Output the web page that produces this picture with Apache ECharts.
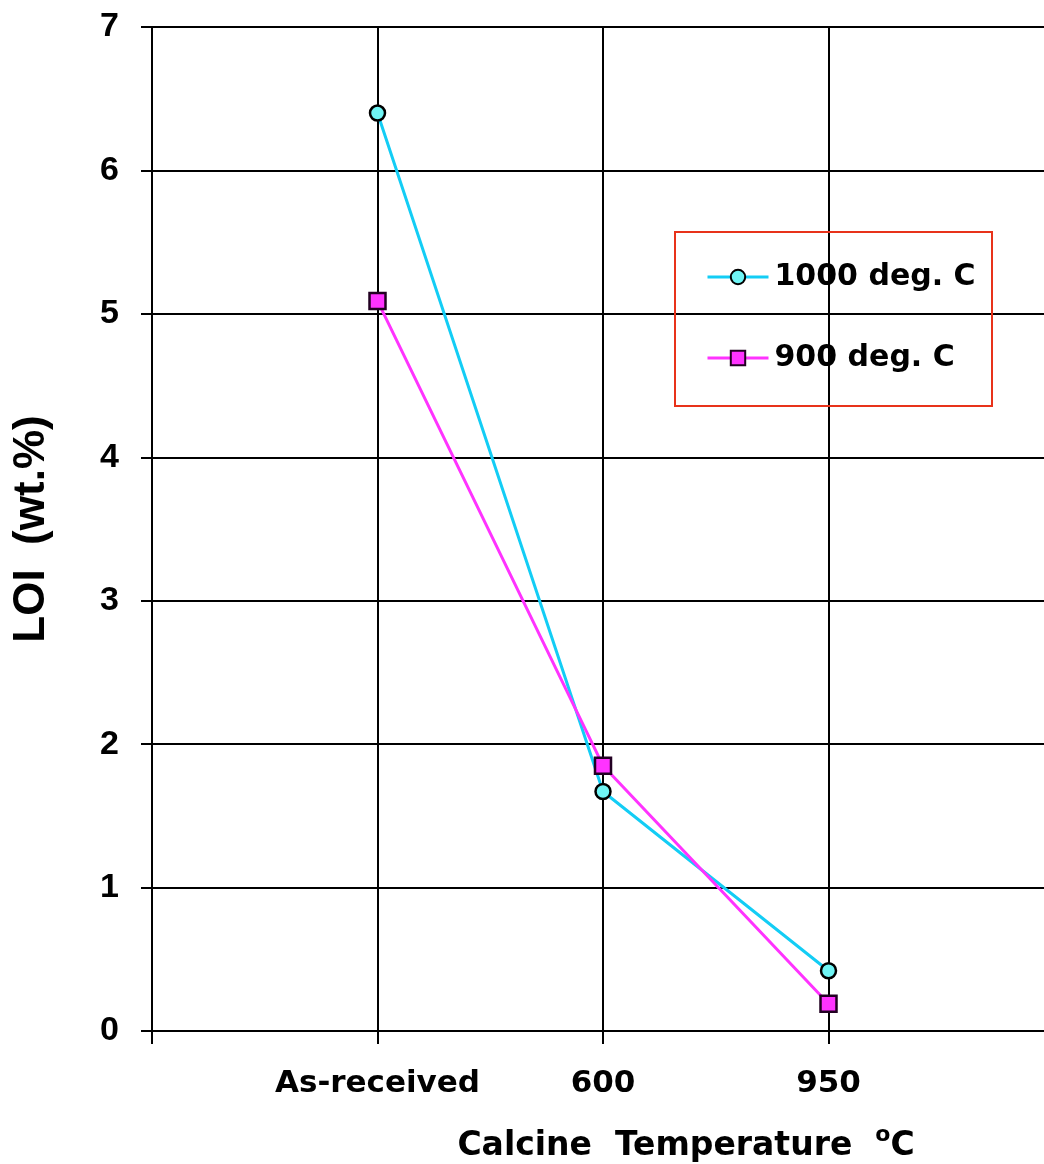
<!DOCTYPE html>
<html>
<head>
<meta charset="utf-8">
<script src="https://cdn.jsdelivr.net/npm/echarts@6/dist/echarts.min.js"></script>
<style>
html,body{margin:0;padding:0;background:#fff;}
#c{width:1044px;height:1164px;}
</style>
</head>
<body>
<div id="c"></div>
<script>
var categories = ['', 'As-received', '600', '950', ''];
var seriesNames = ['1000 deg. C', '900 deg. C'];
var loi1000 = [null, 6.40, 1.67, 0.42, null];
var loi900 = [null, 5.09, 1.85, 0.19, null];
var yTicks = [0, 1, 2, 3, 4, 5, 6, 7];

var narrow = "'Liberation Sans Narrow', 'Liberation Sans', Arial, sans-serif";
var wide = "'DejaVu Sans', sans-serif";

var chart = echarts.init(document.getElementById('c'), null, {renderer: 'canvas'});
chart.setOption({
  backgroundColor: '#ffffff',
  animation: false,
  grid: {left: 152, right: -10, top: 27, bottom: 133, containLabel: false, outerBoundsMode: 'none'},
  xAxis: {
    type: 'category',
    data: categories,
    boundaryGap: false,
    axisLine: {lineStyle: {color: '#000', width: 2}},
    axisTick: {show: true, inside: false, interval: 0, length: 13, lineStyle: {color: '#000', width: 2}},
    splitLine: {show: true, interval: 0, lineStyle: {color: '#000', width: 2}},
    axisLabel: {color: '#000', interval: 0, hideOverlap: false, fontFamily: wide, fontWeight: 'bold', fontSize: 31, margin: 37},
    name: 'Calcine  Temperature  {sup|o}C',
    nameLocation: 'middle',
    nameGap: 93,
    nameTextStyle: {
      color: '#000', fontFamily: wide, fontWeight: 'bold', fontSize: 33,
      padding: [0, 0, 0, 166],
      rich: {sup: {fontFamily: wide, fontWeight: 'bold', fontSize: 22, color: '#000', padding: [0, 0, 22, 0]}}
    }
  },
  yAxis: {
    type: 'value',
    min: yTicks[0],
    max: yTicks[yTicks.length - 1],
    interval: 1,
    axisLine: {show: true, lineStyle: {color: '#000', width: 2}},
    axisTick: {show: true, inside: false, length: 11, lineStyle: {color: '#000', width: 2}},
    splitLine: {show: true, lineStyle: {color: '#000', width: 2}},
    axisLabel: {color: '#000', fontFamily: narrow, fontWeight: 'bold', fontSize: 34, margin: 33},
    name: 'LOI  (wt.%)',
    nameLocation: 'middle',
    nameGap: 98,
    nameTextStyle: {color: '#000', fontFamily: narrow, fontWeight: 'bold', fontSize: 44}
  },
  legend: {
    orient: 'vertical',
    left: 706,
    top: 262,
    itemWidth: 61,
    itemHeight: 18,
    itemGap: 51,
    padding: 0,
    lineStyle: {width: 3},
    textStyle: {color: '#000', fontFamily: wide, fontWeight: 'bold', fontSize: 30, lineHeight: 30, padding: [0, 0, 0, 1]},
    data: seriesNames
  },
  graphic: [{
    type: 'rect',
    shape: {x: 675, y: 232, width: 317, height: 174},
    style: {fill: 'rgba(0,0,0,0)', stroke: '#e8321a', lineWidth: 2},
    z: 100, silent: true
  }],
  series: [
    {
      name: seriesNames[0],
      type: 'line',
      data: loi1000,
      symbol: 'circle',
      symbolSize: 15,
      connectNulls: false,
      lineStyle: {color: '#13cdf5', width: 3},
      itemStyle: {color: '#6ff5f5', borderColor: '#000', borderWidth: 2.5},
      z: 3
    },
    {
      name: seriesNames[1],
      type: 'line',
      data: loi900,
      symbol: 'rect',
      symbolSize: 16,
      lineStyle: {color: '#ff33ff', width: 3},
      itemStyle: {color: '#ff33ff', borderColor: '#220022', borderWidth: 2.5},
      z: 4
    }
  ]
});
</script>
</body>
</html>
